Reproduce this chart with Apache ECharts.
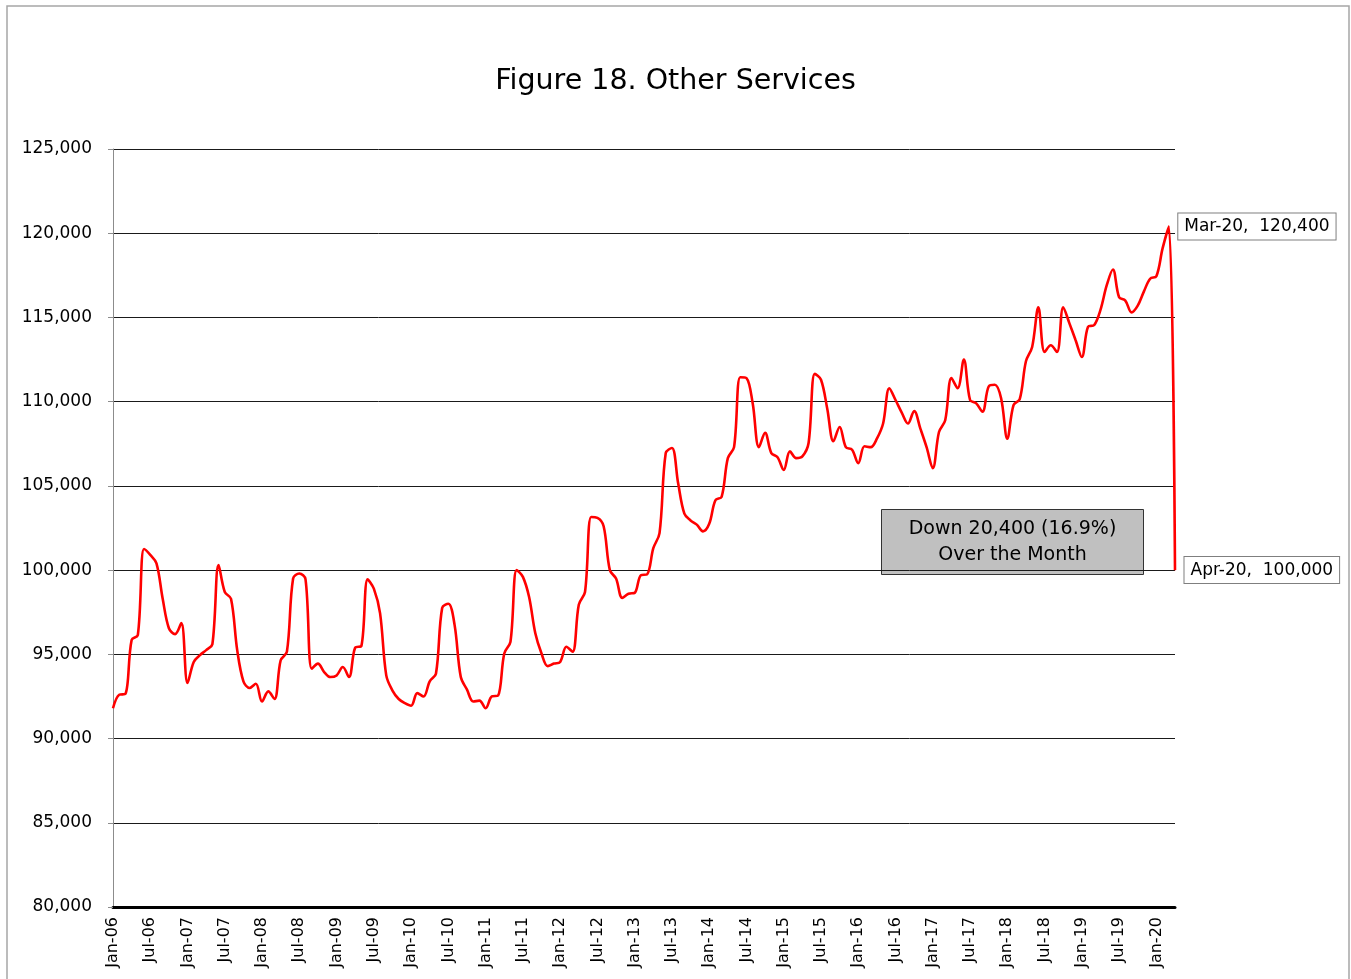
<!DOCTYPE html>
<html>
<head>
<meta charset="utf-8">
<title>Figure 18. Other Services</title>
<script src="https://cdn.jsdelivr.net/npm/echarts@6/dist/echarts.min.js"></script>
<style>
  html, body { margin: 0; padding: 0; background: #ffffff; }
  #chart { width: 1351px; height: 979px; }
</style>
</head>
<body>
<div id="chart"></div>
<script>
// Monthly employment, Other Services, Jan 2006 – Apr 2020
const monthNames = ['Jan', 'Feb', 'Mar', 'Apr', 'May', 'Jun', 'Jul', 'Aug', 'Sep', 'Oct', 'Nov', 'Dec'];
const startYear = 2006;
const monthCount = 172;

const employment = [
  91800, 92600, 92650, 95850, 96150, 101250, 100900, 100400, 98300, 96550, 96200, 96850,   // 2006
  93300, 94550, 94950, 95250, 95600, 100300, 98700, 98300, 95250, 93400, 93000, 93250,     // 2007
  92200, 92800, 92350, 94650, 95150, 99500, 99800, 99450, 94150, 94450, 93950, 93650,      // 2008
  93750, 94250, 93650, 95400, 95500, 99450, 98900, 97450, 93750, 92850, 92350, 92100,      // 2009
  91950, 92700, 92500, 93400, 93850, 97750, 98000, 96750, 93650, 92900, 92200, 92250,      // 2010
  91800, 92500, 92550, 95050, 95750, 100000, 99600, 98400, 96250, 95050, 94300, 94450,     // 2011
  94550, 95450, 95150, 97950, 98700, 103150, 103100, 102600, 100000, 99500, 98350, 98600,  // 2012
  98650, 99700, 99750, 101300, 102200, 106950, 107250, 105150, 103350, 102950, 102700, 102300, // 2013
  102750, 104150, 104350, 106650, 107300, 111450, 111400, 109900, 107300, 108150, 106950, 106700, // 2014
  105950, 107050, 106650, 106750, 107550, 111650, 111300, 109600, 107650, 108500, 107300, 107150, // 2015
  106350, 107350, 107300, 107800, 108700, 110800, 110100, 109350, 108700, 109450, 108400, 107300, // 2016
  106050, 108200, 108900, 111400, 110800, 112500, 110100, 109900, 109400, 110900, 111000, 110200, // 2017
  107800, 109800, 110150, 112400, 113250, 115600, 112950, 113350, 112950, 115600, 114650, 113650, // 2018
  112650, 114450, 114550, 115450, 116900, 117850, 116200, 116000, 115300, 115700, 116550, 117300, // 2019
  117450, 119100, 120400, 100000                                                           // 2020
];

// Month labels such as "Jan-06"
const categories = [];
for (let i = 0; i < monthCount; i++) {
  const yy = String((startYear + Math.floor(i / 12)) % 100).padStart(2, '0');
  categories.push(monthNames[i % 12] + '-' + yy);
}

const yTicks = { min: 80000, max: 125000, interval: 5000 };
const calloutMonths = ['Mar-20', 'Apr-20'];

const fontFamily = '"DejaVu Sans", "Noto Sans", sans-serif';
const fmt = v => v.toLocaleString('en-US');

const last = employment[employment.length - 1];
const prev = employment[employment.length - 2];
const drop = prev - last;
const dropPct = (drop / prev * 100).toFixed(1);

// Only the two callout months carry a (tiny) symbol so their labels render
const seriesData = employment.map((v, i) => {
  if (calloutMonths.indexOf(categories[i]) === -1) {
    return { value: v, symbol: 'none' };
  }
  return {
    value: v,
    symbol: 'circle',
    symbolSize: 1,
    label: {
      show: true,
      position: 'right',
      distance: 9,
      formatter: categories[i] + ',  ' + fmt(v),
      color: '#000',
      fontFamily: fontFamily,
      fontSize: 17,
      backgroundColor: '#ffffff',
      borderColor: '#7f7f7f',
      borderWidth: 1,
      padding: [5, 6, 4, 6]
    }
  };
});

const chart = echarts.init(document.getElementById('chart'), null, { renderer: 'canvas' });

chart.setOption({
  animation: false,
  backgroundColor: '#ffffff',
  textStyle: { fontFamily: fontFamily },
  title: {
    text: 'Figure 18. Other Services',
    left: 'center',
    top: 62,
    textStyle: { fontFamily: fontFamily, fontSize: 28.5, fontWeight: 'normal', color: '#000' }
  },
  grid: { left: 113, right: 176, top: 149, bottom: 72, containLabel: false },
  xAxis: {
    type: 'category',
    data: categories,
    boundaryGap: false,
    axisLine: { show: true, onZero: false, lineStyle: { color: '#000', width: 3 } },
    axisTick: { show: false },
    axisLabel: {
      interval: 5,
      rotate: 90,
      margin: 10,
      fontSize: 16,
      color: '#000',
      fontFamily: fontFamily
    },
    splitLine: { show: false }
  },
  yAxis: {
    type: 'value',
    min: yTicks.min,
    max: yTicks.max,
    interval: yTicks.interval,
    axisLine: { show: true, lineStyle: { color: '#8c8c8c', width: 1 } },
    axisTick: { show: true, length: 5, lineStyle: { color: '#8c8c8c' } },
    axisLabel: {
      margin: 21,
      fontSize: 17,
      color: '#000',
      fontFamily: fontFamily,
      formatter: v => fmt(v)
    },
    splitLine: { show: true, lineStyle: { color: '#1a1a1a', width: 1 } }
  },
  series: [{
    type: 'line',
    data: seriesData,
    smooth: 0.35,
    showSymbol: true,
    showAllSymbol: true,
    symbol: 'none',
    itemStyle: { color: '#ff0000' },
    lineStyle: { color: '#ff0000', width: 2.6 },
    clip: false,
    z: 5
  }],
  graphic: [
    {
      type: 'rect',
      shape: { x: 7, y: 6, width: 1342, height: 990 },
      style: { fill: 'none', stroke: '#a6a6a6', lineWidth: 1.5 },
      silent: true,
      z: 0
    },
    {
      type: 'group',
      left: 881,
      top: 509,
      z: 10,
      children: [
        {
          type: 'rect',
          shape: { x: 0, y: 0, width: 262, height: 65 },
          style: { fill: '#c0c0c0', stroke: '#333333', lineWidth: 1 }
        },
        {
          type: 'text',
          x: 131,
          y: 33,
          style: {
            text: 'Down ' + fmt(drop) + ' (' + dropPct + '%)\nOver the Month',
            align: 'center',
            verticalAlign: 'middle',
            fontFamily: fontFamily,
            fontSize: 19,
            lineHeight: 26,
            fill: '#000'
          }
        }
      ]
    }
  ]
});
</script>
</body>
</html>
